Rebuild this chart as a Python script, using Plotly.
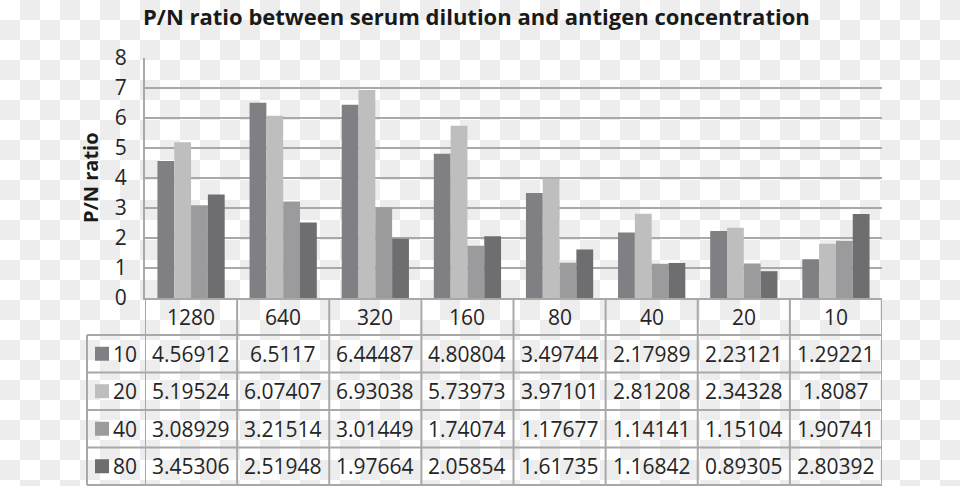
import zlib, struct, base64
import plotly.graph_objects as go

# ---- data ----
categories = ["1280", "640", "320", "160", "80", "40", "20", "10"]
series_names = ["10", "20", "40", "80"]
s10 = [4.56912, 6.5117, 6.44487, 4.80804, 3.49744, 2.17989, 2.23121, 1.29221]
s20 = [5.19524, 6.07407, 6.93038, 5.73973, 3.97101, 2.81208, 2.34328, 1.8087]
s40 = [3.08929, 3.21514, 3.01449, 1.74074, 1.17677, 1.14141, 1.15104, 1.90741]
s80 = [3.45306, 2.51948, 1.97664, 2.05854, 1.61735, 1.16842, 0.89305, 2.80392]
series_values = [s10, s20, s40, s80]
colors = ["#808084", "#bebebe", "#9b9b9e", "#6e6e71"]
title_text = "P/N ratio between serum dilution and antigen concentration"
y_title = "P/N ratio"

W, H = 960, 486
FONT = "Open Sans"
TXT = "#262626"
LINE = "#a8a8a8"

# ---- checkerboard background (transparent-PNG look) ----
def make_png(w, h, sq=20, light=255, dark=237):
    rows = []
    for yy in range(h):
        r = bytearray(w)
        for xx in range(w):
            r[xx] = dark if ((xx // sq) + (yy // sq)) % 2 else light
        rows.append(b"\x00" + bytes(r))
    raw = b"".join(rows)
    def chunk(t, d):
        return struct.pack(">I", len(d)) + t + d + struct.pack(">I", zlib.crc32(t + d) & 0xffffffff)
    return (b"\x89PNG\r\n\x1a\n" + chunk(b"IHDR", struct.pack(">IIBBBBB", w, h, 8, 0, 0, 0, 0))
            + chunk(b"IDAT", zlib.compress(raw, 9)) + chunk(b"IEND", b""))

bg_uri = "data:image/png;base64," + base64.b64encode(make_png(W, H)).decode()

# ---- layout geometry (pixels) ----
px_l, px_r = 145, 882
py_top, py_zero = 58, 298
row_h = 37.5
header_bottom = 335
table_bottom = 485
left_col = 87

def py(p):  # pixel y -> paper
    return (H - p) / H

def pxx(p):
    return p / W

fig = go.Figure()
for name, vals, col in zip(series_names, series_values, colors):
    fig.add_trace(go.Bar(x=categories, y=vals, name=name, marker=dict(color=col, line=dict(width=0)),
                         showlegend=False))

shapes = []
annotations = []

# vertical table lines at category boundaries
for i in range(len(categories) + 1):
    shapes.append(dict(type="line", xref="x", yref="paper", x0=i - 0.5, x1=i - 0.5,
                       y0=py(table_bottom), y1=py(py_zero), line=dict(color=LINE, width=2)))
# left column border
shapes.append(dict(type="line", xref="paper", yref="paper", x0=pxx(left_col), x1=pxx(left_col),
                   y0=py(table_bottom), y1=py(header_bottom), line=dict(color=LINE, width=2)))
# horizontal lines
for k in range(len(series_names) + 1):
    yy = header_bottom + row_h * k
    shapes.append(dict(type="line", xref="paper", yref="paper", x0=pxx(left_col), x1=pxx(px_r),
                       y0=py(yy), y1=py(yy), line=dict(color=LINE, width=2)))

# header labels
for i, c in enumerate(categories):
    annotations.append(dict(x=i, y=py((py_zero + header_bottom) / 2), xref="x", yref="paper",
                            text=c, showarrow=False, xanchor="center", yanchor="middle",
                            font=dict(family=FONT, size=21, color=TXT)))
# rows
for k, (name, vals, col) in enumerate(zip(series_names, series_values, colors)):
    yc = header_bottom + row_h * (k + 0.5)
    shapes.append(dict(type="rect", xref="paper", yref="paper", x0=pxx(95), x1=pxx(109),
                       y0=py(yc + 7), y1=py(yc - 7), fillcolor=col, line=dict(width=0)))
    annotations.append(dict(x=pxx(111), y=py(yc), xref="paper", yref="paper", text=name,
                            showarrow=False, xanchor="left", yanchor="middle",
                            font=dict(family=FONT, size=21, color=TXT)))
    for i, v in enumerate(vals):
        annotations.append(dict(x=i, y=py(yc), xref="x", yref="paper", text=repr(v),
                                showarrow=False, xanchor="center", yanchor="middle",
                                font=dict(family=FONT, size=21, color=TXT)))

# y title
annotations.append(dict(x=pxx(90), y=py((py_top + py_zero) / 2), xref="paper", yref="paper",
                        text="<b>" + y_title + "</b>", textangle=-90, showarrow=False,
                        xanchor="center", yanchor="middle",
                        font=dict(family=FONT, size=20, color="#1a1a1a")))
# title
annotations.append(dict(x=pxx(476), y=py(16), xref="paper", yref="paper",
                        text="<b>" + title_text + "</b>", showarrow=False,
                        xanchor="center", yanchor="middle",
                        font=dict(family=FONT, size=22, color="#1a1a1a")))

fig.update_layout(
    width=W, height=H, autosize=False,
    margin=dict(l=0, r=0, t=0, b=0, pad=0, autoexpand=False),
    paper_bgcolor="white", plot_bgcolor="white",
    barmode="group", bargap=0.27, bargroupgap=0,
    images=[dict(source=bg_uri, xref="paper", yref="paper", x=0, y=1, sizex=1, sizey=1,
                 sizing="stretch", xanchor="left", yanchor="top", layer="below")],
    xaxis=dict(domain=[pxx(px_l), pxx(px_r)], type="category", range=[-0.5, len(categories) - 0.5],
               showgrid=False, showline=True, linecolor=LINE, linewidth=2, showticklabels=False,
               ticks="", zeroline=False, fixedrange=True, automargin=False),
    yaxis=dict(domain=[py(py_zero), py(py_top)], range=[0, 8], dtick=1, showgrid=True,
               gridcolor=LINE, gridwidth=2, showline=True, linecolor=LINE, linewidth=2,
               zeroline=False, ticks="", ticklabelstandoff=12, automargin=False,
               tickfont=dict(family=FONT, size=21, color=TXT), fixedrange=True),
    shapes=shapes, annotations=annotations,
)

fig.write_html("out.html")
